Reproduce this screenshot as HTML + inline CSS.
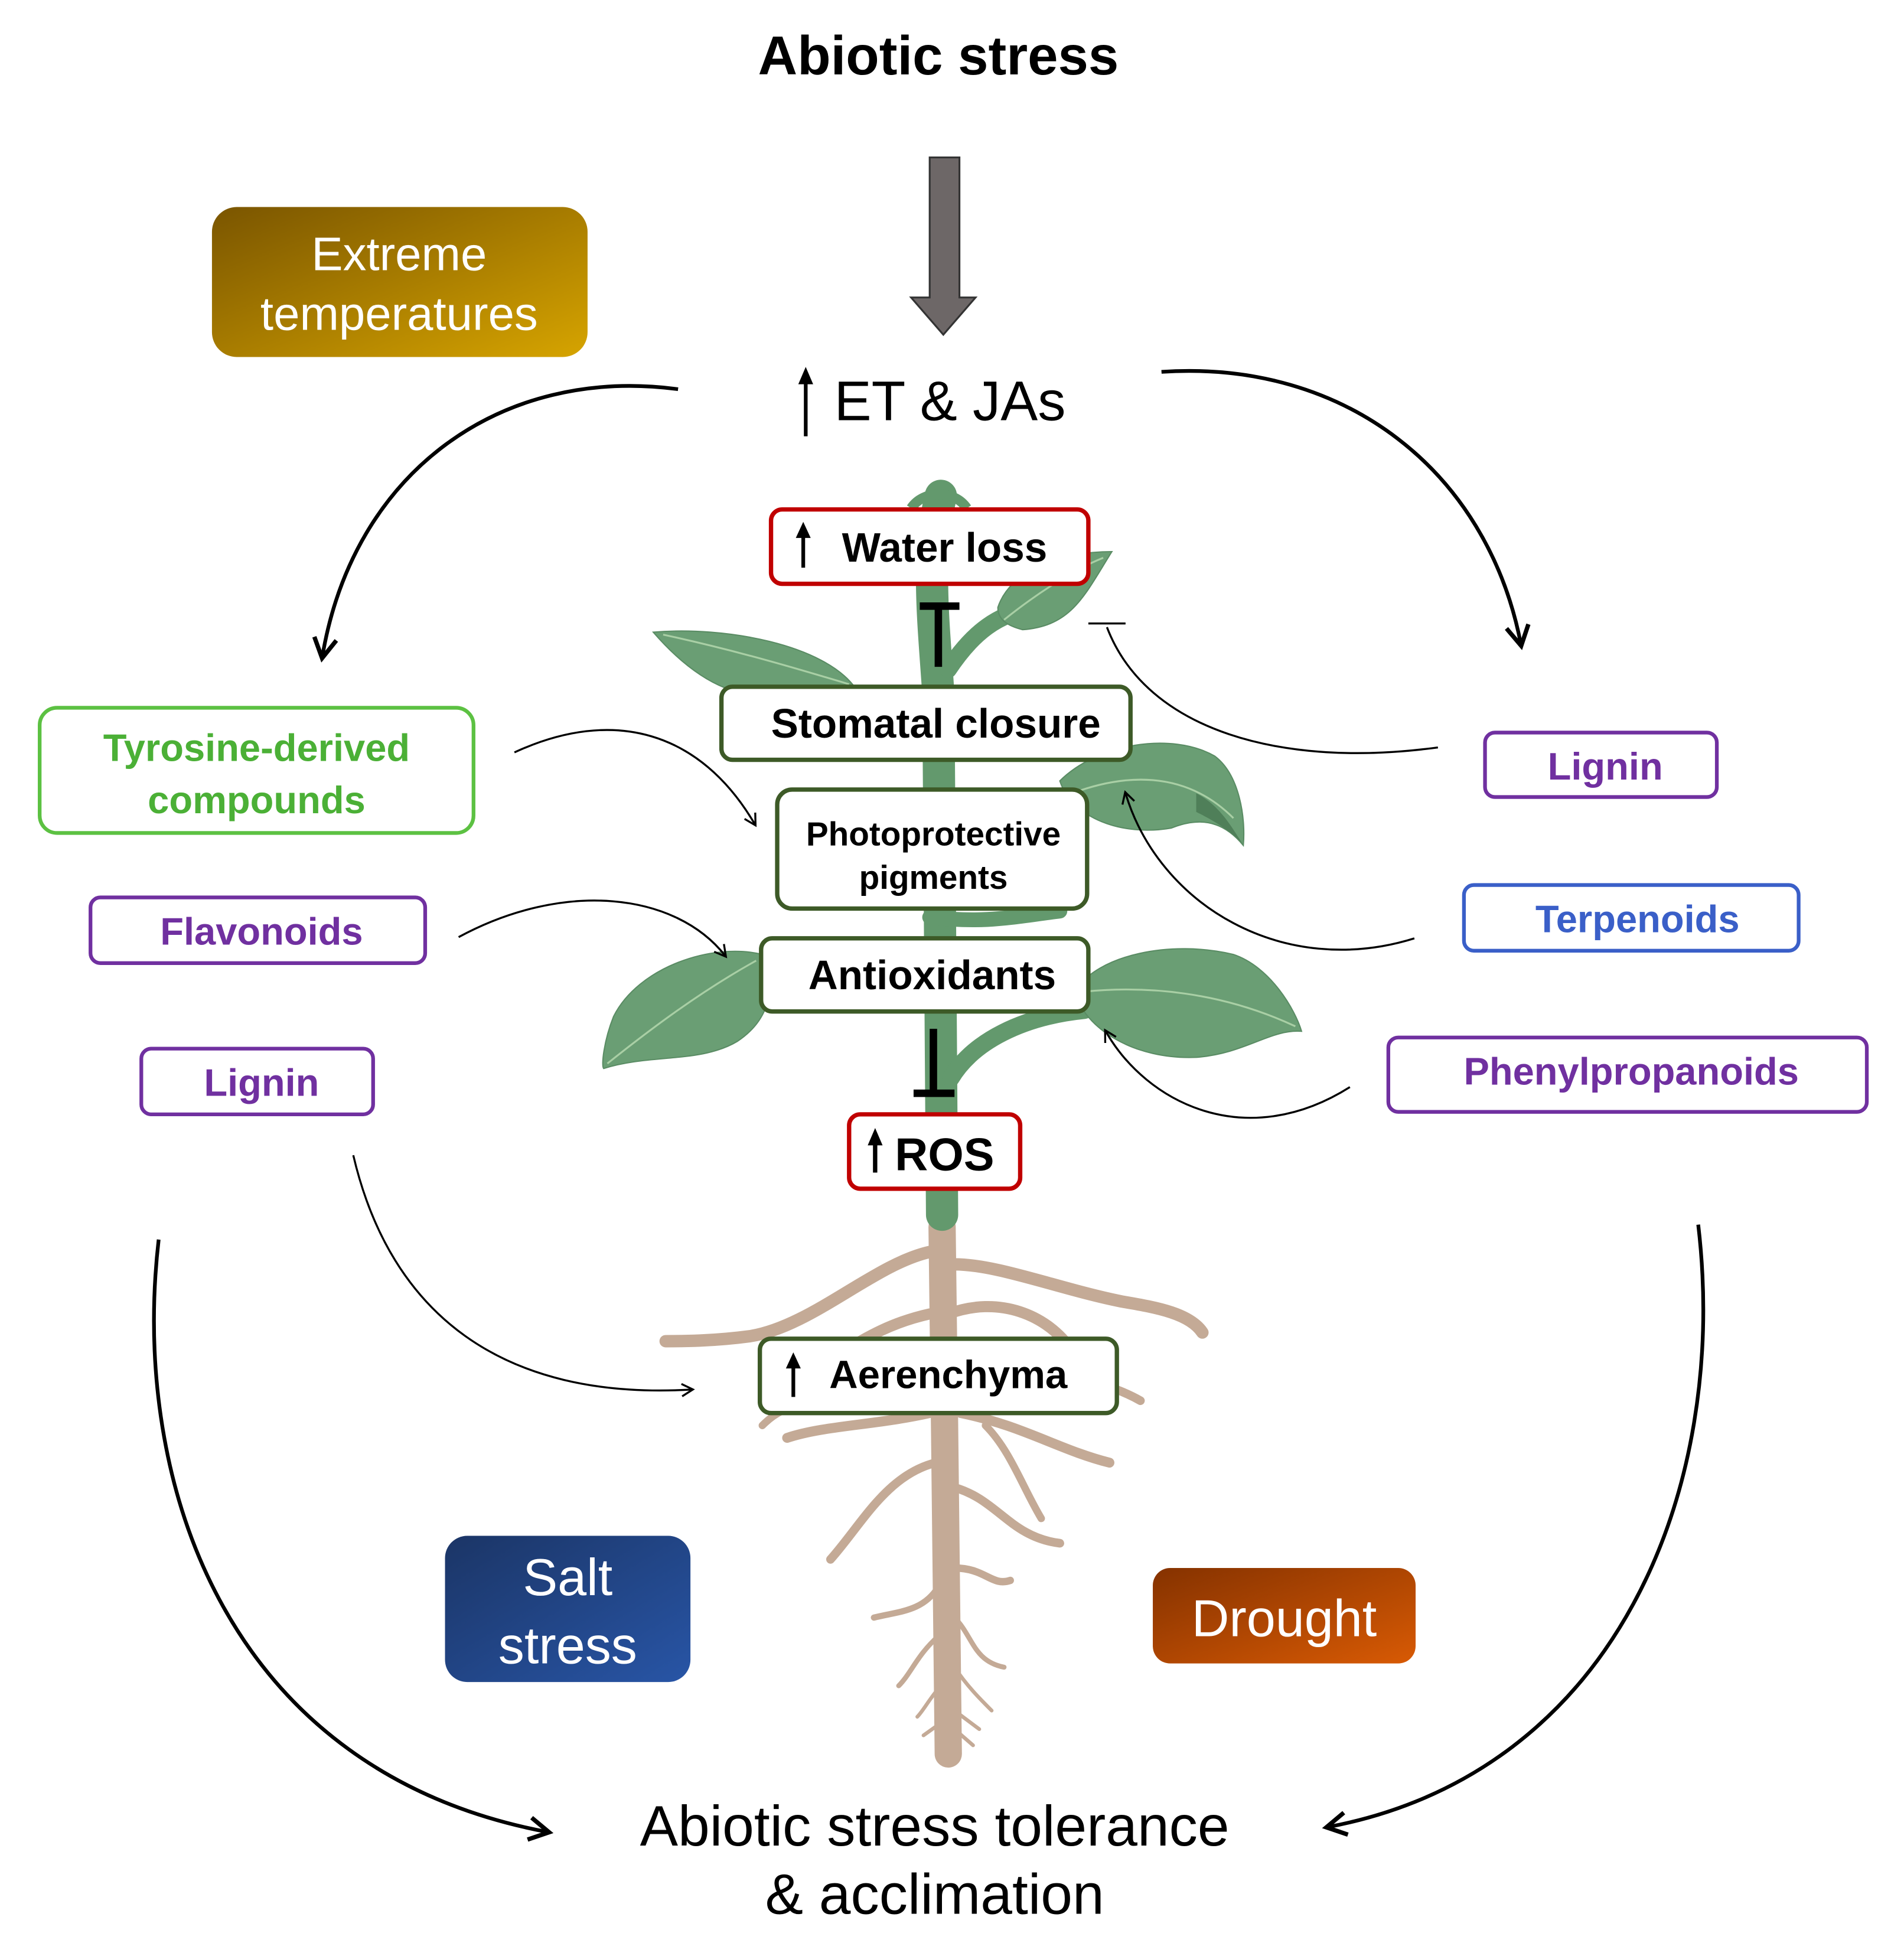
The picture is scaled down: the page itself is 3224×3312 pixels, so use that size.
<!DOCTYPE html>
<html><head><meta charset="utf-8"><style>
html,body{margin:0;padding:0;background:#fff}
svg{display:block}
text{font-family:"Liberation Sans",Arial,sans-serif}
</style></head><body>
<svg width="3224" height="3312" viewBox="0 0 1536 1578" preserveAspectRatio="none" xmlns="http://www.w3.org/2000/svg">
<defs>
<linearGradient id="gt" x1="0" y1="0" x2="1" y2="1"><stop offset="0" stop-color="#7a5500"/><stop offset="1" stop-color="#d6a400"/></linearGradient>
<linearGradient id="gs" x1="0" y1="0" x2="1" y2="1"><stop offset="0" stop-color="#1b3566"/><stop offset="1" stop-color="#2855a6"/></linearGradient>
<linearGradient id="gd" x1="0" y1="0" x2="1" y2="1"><stop offset="0" stop-color="#853200"/><stop offset="1" stop-color="#d85a04"/></linearGradient>
<marker id="ah" markerWidth="12" markerHeight="12" refX="9" refY="6" orient="auto" markerUnits="userSpaceOnUse"><path d="M1,1 L10,6 L1,11" fill="none" stroke="#000" stroke-width="1.6"/></marker>
<marker id="ahb" markerWidth="22" markerHeight="22" refX="17" refY="11" orient="auto" markerUnits="userSpaceOnUse"><path d="M2,2 L18,11 L2,20" fill="none" stroke="#000" stroke-width="3.5"/></marker>
</defs>
<g transform="translate(5,0)">
<text x="752" y="60" font-size="44" font-weight="bold" text-anchor="middle">Abiotic stress</text>
<path d="M745,127 H769 V240 H782 L756,270 L730,240 H745 Z" fill="#6d6767" stroke="#333" stroke-width="1.5"/>

<rect x="166" y="167" width="303" height="121" rx="20" fill="url(#gt)"/>
<text x="317" y="218" font-size="38" fill="#fff" text-anchor="middle">Extreme</text>
<text x="317" y="266" font-size="38" fill="#fff" text-anchor="middle">temperatures</text>

<line x1="645" y1="352" x2="645" y2="305" stroke="#000" stroke-width="3"/>
<path d="M639,310 L645,296 L651,310 Z" fill="#000"/>
<text x="668" y="339" font-size="45">ET &amp; JAs</text>

<path d="M542,314 C400,295 280,380 255,530" fill="none" stroke="#000" stroke-width="3" marker-end="url(#ahb)"/>
<path d="M932,300 C1080,290 1195,380 1222,520" fill="none" stroke="#000" stroke-width="3" marker-end="url(#ahb)"/>
<path d="M123,1000 C100,1200 180,1430 437,1478" fill="none" stroke="#000" stroke-width="3" marker-end="url(#ahb)"/>
<path d="M1365,988 C1390,1200 1300,1430 1066,1474" fill="none" stroke="#000" stroke-width="3" marker-end="url(#ahb)"/>

<g fill="none" stroke="#c4aa96" stroke-linecap="round">
<path d="M755,990 L757,1150 L760,1415" stroke-width="22"/>
<path d="M745,1010 C700,1020 650,1070 600,1078 C570,1082 545,1082 532,1082" stroke-width="10"/>
<path d="M765,1020 C800,1020 850,1040 900,1050 C930,1055 955,1060 965,1075" stroke-width="10"/>
<path d="M760,1060 C800,1045 840,1060 860,1090" stroke-width="9"/>
<path d="M745,1060 C700,1070 680,1090 640,1110" stroke-width="9"/>
<path d="M745,1140 C700,1150 660,1150 630,1160" stroke-width="8"/>
<path d="M770,1140 C820,1150 850,1170 890,1180" stroke-width="8"/>
<path d="M790,1150 C810,1170 820,1200 835,1225" stroke-width="6"/>
<path d="M750,1180 C710,1190 690,1230 665,1258" stroke-width="7"/>
<path d="M765,1200 C800,1210 810,1240 850,1245" stroke-width="7"/>
<path d="M765,1265 C790,1265 795,1280 810,1275" stroke-width="6"/>
<path d="M752,1280 C740,1300 720,1300 700,1305" stroke-width="5"/>
<path d="M765,1305 C780,1320 780,1340 805,1345" stroke-width="4"/>
<path d="M752,1320 C735,1335 730,1350 720,1360" stroke-width="4"/>
<path d="M765,1345 C775,1360 785,1370 795,1380" stroke-width="3"/>
<path d="M754,1360 C745,1370 740,1380 735,1385" stroke-width="3"/>
<path d="M765,1380 L785,1395 M754,1390 L740,1400 M765,1395 L780,1408" stroke-width="3"/>
<path d="M780,1090 C840,1110 880,1110 915,1130" stroke-width="7"/>
<path d="M610,1150 C620,1140 630,1135 640,1135" stroke-width="6"/>
</g>
<path d="M754,400 C742,450 748,500 752,560 L755,980" stroke="#63996d" stroke-width="26" fill="none" stroke-linecap="round"/>
<path d="M760,540 C780,510 800,495 830,490" stroke="#63996d" stroke-width="14" fill="none" stroke-linecap="round"/>
<path d="M762,870 C780,840 820,820 870,815" stroke="#63996d" stroke-width="14" fill="none" stroke-linecap="round"/>
<path d="M745,740 C790,745 810,740 850,735" stroke="#63996d" stroke-width="12" fill="none" stroke-linecap="round"/>
<path d="M730,410 C740,395 765,395 775,410" stroke="#63996d" stroke-width="8" fill="none"/>
<g fill="#6a9e74" stroke="#5a8c64" stroke-width="1">
<path d="M522,510 C580,505 660,520 685,555 C640,565 600,560 580,555 C555,545 535,525 522,510 Z"/>
<path d="M800,490 C810,460 850,445 892,445 C870,480 860,505 820,508 C808,505 800,500 800,490 Z"/>
<path d="M850,630 C880,600 940,590 975,610 C995,625 1000,660 998,682 C980,660 960,660 940,668 C900,675 860,660 850,630 Z"/>
<path d="M610,770 C570,760 510,780 490,820 C482,840 480,860 482,862 C520,850 560,858 590,840 C620,820 620,790 610,770 Z"/>
<path d="M862,800 C880,770 940,758 990,770 C1020,780 1040,815 1045,832 C1020,830 1000,850 960,853 C910,855 870,830 862,800 Z"/>
</g>
<g stroke="#a9cfa5" stroke-width="1.5" fill="none">
<path d="M530,512 C590,525 640,540 680,552"/>
<path d="M805,500 C830,480 860,460 885,450"/>
<path d="M860,640 C900,625 950,620 990,660"/>
<path d="M485,858 C520,830 560,800 605,775"/>
<path d="M870,800 C920,795 980,800 1040,828"/>
</g>
<path d="M960,640 C980,650 990,670 997,680 C985,668 970,660 960,655 Z" fill="#4f7f59"/>

<g font-weight="bold" text-anchor="middle">
<rect x="617" y="411" width="256" height="60" rx="9" fill="#fff" stroke="#c00000" stroke-width="3.5"/>
<line x1="643" y1="458" x2="643" y2="430" stroke="#000" stroke-width="3"/><path d="M637,434 L643,421 L649,434 Z" fill="#000"/>
<text x="757" y="453" font-size="33">Water loss</text>

<rect x="577" y="554" width="330" height="59" rx="9" fill="#fff" stroke="#3d5a27" stroke-width="3.5"/>
<text x="750" y="595" font-size="33">Stomatal closure</text>

<rect x="622" y="637" width="250" height="96" rx="12" fill="#fff" stroke="#3d5a27" stroke-width="3.5"/>
<text x="748" y="682" font-size="27">Photoprotective</text>
<text x="748" y="717" font-size="27">pigments</text>

<rect x="609" y="757" width="264" height="59" rx="9" fill="#fff" stroke="#3d5a27" stroke-width="3.5"/>
<text x="747" y="798" font-size="33">Antioxidants</text>

<rect x="680" y="899" width="138" height="60" rx="9" fill="#fff" stroke="#c00000" stroke-width="3.5"/>
<line x1="701" y1="946" x2="701" y2="920" stroke="#000" stroke-width="3.5"/><path d="M695,924 L701,910 L707,924 Z" fill="#000"/>
<text x="757" y="944" font-size="37">ROS</text>

<rect x="608" y="1080" width="288" height="60" rx="9" fill="#fff" stroke="#3d5a27" stroke-width="3.5"/>
<line x1="635" y1="1127" x2="635" y2="1100" stroke="#000" stroke-width="3"/><path d="M629,1104 L635,1091 L641,1104 Z" fill="#000"/>
<text x="760" y="1120" font-size="32">Aerenchyma</text>
</g>
<line x1="752" y1="489" x2="752" y2="538" stroke="#000" stroke-width="6"/><line x1="737" y1="489" x2="769" y2="489" stroke="#000" stroke-width="6"/>
<line x1="748" y1="830" x2="748" y2="882" stroke="#000" stroke-width="6"/><line x1="732" y1="882" x2="765" y2="882" stroke="#000" stroke-width="6"/>

<g font-weight="bold" text-anchor="middle" font-size="31">
<rect x="27" y="571" width="350" height="101" rx="14" fill="#fff" stroke="#5cc142" stroke-width="3"/>
<text x="202" y="614" fill="#4bb036">Tyrosine-derived</text>
<text x="202" y="656" fill="#4bb036">compounds</text>
<rect x="68" y="724" width="270" height="53" rx="8" fill="#fff" stroke="#7030a0" stroke-width="3"/>
<text x="206" y="762" fill="#7030a0">Flavonoids</text>
<rect x="109" y="846" width="187" height="53" rx="8" fill="#fff" stroke="#7030a0" stroke-width="3"/>
<text x="206" y="884" fill="#7030a0">Lignin</text>
<rect x="1193" y="591" width="187" height="52" rx="8" fill="#fff" stroke="#7030a0" stroke-width="3"/>
<text x="1290" y="629" fill="#7030a0">Lignin</text>
<rect x="1176" y="714" width="270" height="53" rx="8" fill="#fff" stroke="#3a5fc8" stroke-width="3"/>
<text x="1316" y="752" fill="#3a5fc8">Terpenoids</text>
<rect x="1115" y="837" width="386" height="60" rx="8" fill="#fff" stroke="#7030a0" stroke-width="3"/>
<text x="1311" y="875" fill="#7030a0">Phenylpropanoids</text>
</g>

<g fill="none" stroke="#000" stroke-width="1.6">
<path d="M410,607 C490,570 560,590 604,665" marker-end="url(#ah)"/>
<path d="M365,756 C450,710 540,720 580,771" marker-end="url(#ah)"/>
<path d="M280,932 C310,1060 400,1130 553,1121" marker-end="url(#ah)"/>
<path d="M1155,603 C1030,620 920,590 888,506"/>
<line x1="873" y1="503" x2="903" y2="503"/>
<path d="M1136,757 C1030,790 930,730 903,640" marker-end="url(#ah)"/>
<path d="M1084,877 C1000,930 920,890 887,832" marker-end="url(#ah)"/>
</g>

<rect x="354" y="1239" width="198" height="118" rx="18" fill="url(#gs)"/>
<text x="453" y="1287" font-size="42" fill="#fff" text-anchor="middle">Salt</text>
<text x="453" y="1342" font-size="42" fill="#fff" text-anchor="middle">stress</text>
<rect x="925" y="1265" width="212" height="77" rx="14" fill="url(#gd)"/>
<text x="1031" y="1320" font-size="42" fill="#fff" text-anchor="middle">Drought</text>

<text x="749" y="1489" font-size="46" text-anchor="middle">Abiotic stress tolerance</text>
<text x="749" y="1544" font-size="46" text-anchor="middle">&amp; acclimation</text>
</g>
</svg>
</body></html>
